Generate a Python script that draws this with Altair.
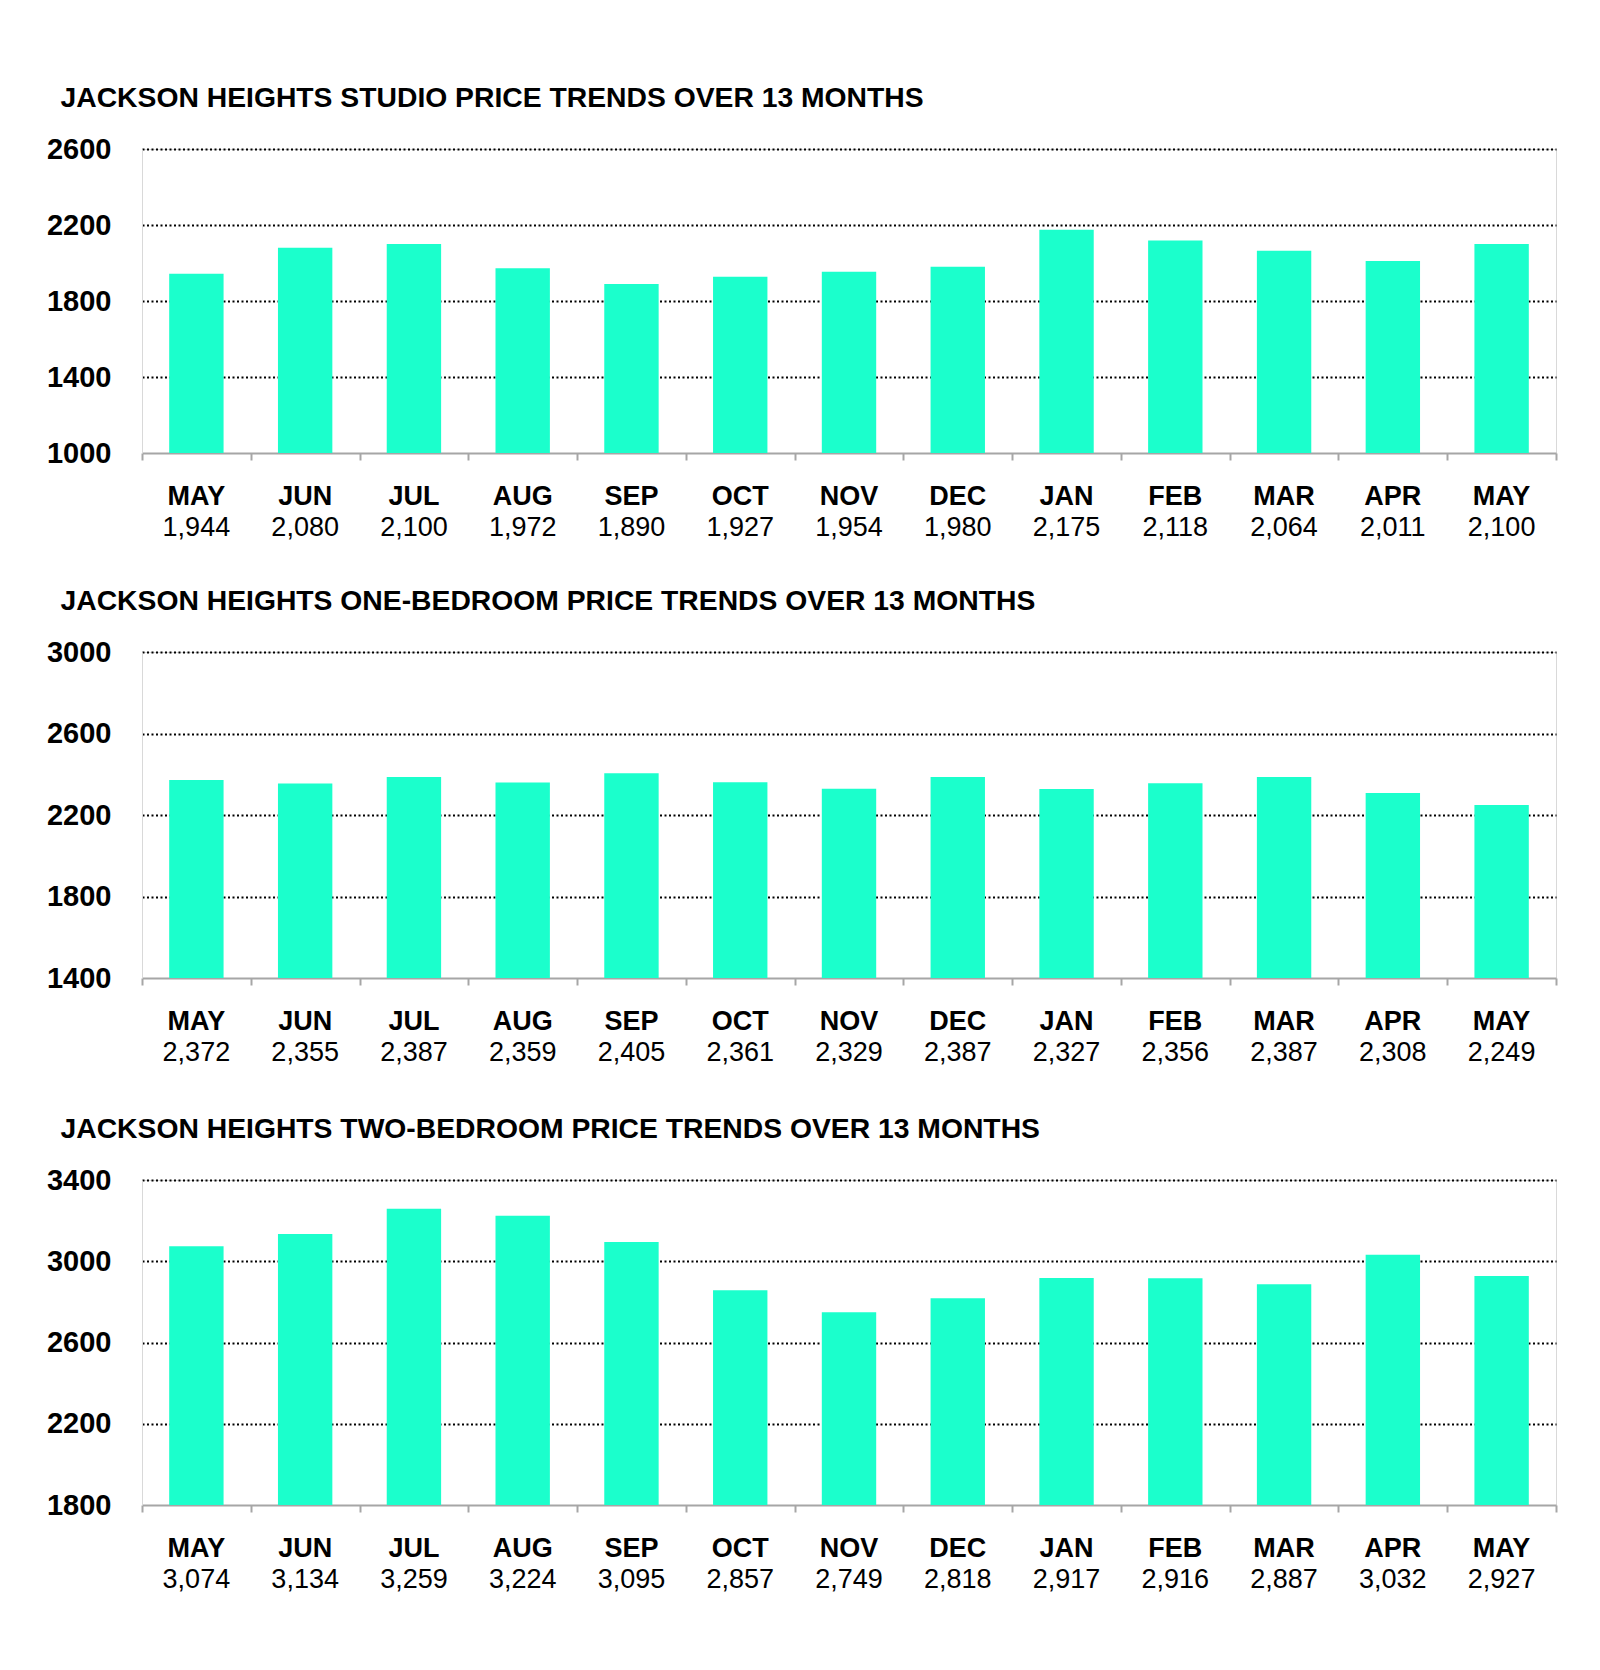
import altair as alt
import pandas as pd

months = ["MAY", "JUN", "JUL", "AUG", "SEP", "OCT", "NOV", "DEC", "JAN", "FEB", "MAR", "APR", "MAY"]
studio = [1944, 2080, 2100, 1972, 1890, 1927, 1954, 1980, 2175, 2118, 2064, 2011, 2100]
one_bed = [2372, 2355, 2387, 2359, 2405, 2361, 2329, 2387, 2327, 2356, 2387, 2308, 2249]
two_bed = [3074, 3134, 3259, 3224, 3095, 2857, 2749, 2818, 2917, 2916, 2887, 3032, 2927]

titles = [
    "JACKSON HEIGHTS STUDIO PRICE TRENDS OVER 13 MONTHS",
    "JACKSON HEIGHTS ONE-BEDROOM PRICE TRENDS OVER 13 MONTHS",
    "JACKSON HEIGHTS TWO-BEDROOM PRICE TRENDS OVER 13 MONTHS",
]
studio_ticks = [1000, 1400, 1800, 2200, 2600]
one_bed_ticks = [1400, 1800, 2200, 2600, 3000]
two_bed_ticks = [1800, 2200, 2600, 3000, 3400]
panel_heights = [304, 326, 325]

FONT = "Liberation Sans"
BAR = "#1bffcc"
PLOT_W = 1414


def panel(values, title, ticks, h):
    df = pd.DataFrame({"idx": list(range(len(months))), "month": months, "value": values})
    x = alt.X(
        "idx:O",
        scale=alt.Scale(paddingInner=0, paddingOuter=0),
        axis=alt.Axis(
            title=None, labels=False, tickBand="extent", tickSize=7,
            tickColor="#a6a6a6", tickWidth=2, domainColor="#a6a6a6",
            domainWidth=2, grid=False,
        ),
    )
    y = alt.Y(
        "value:Q",
        scale=alt.Scale(domain=[ticks[0], ticks[-1]], nice=False, zero=False),
        axis=alt.Axis(
            title=None, values=ticks, format="d", labelFontSize=29, labelFontWeight="bold",
            labelColor="black", labelFont=FONT, labelPadding=31, ticks=False,
            domainColor="#d9d9d9", domainWidth=1,
            gridColor={"condition": {"test": f"datum.value === {ticks[0]}", "value": "transparent"},
                       "value": "#000000"},
            gridDash=[2, 2.5], gridWidth=2,
        ),
    )
    bars = alt.Chart(df).mark_bar(color=BAR, clip=True, width=alt.RelativeBandSize(0.5)).encode(x=x, y=y)
    month_text = alt.Chart(df).mark_text(
        font=FONT, fontSize=27, fontWeight="bold", baseline="middle", color="black"
    ).encode(x=alt.X("idx:O"), y=alt.value(h + 44), text="month:N")
    value_text = alt.Chart(df).mark_text(
        font=FONT, fontSize=27, baseline="middle", color="black"
    ).encode(x=alt.X("idx:O"), y=alt.value(h + 75), text=alt.Text("value:Q", format=","))
    return alt.layer(bars, month_text, value_text).properties(
        width=PLOT_W, height=h,
        title=alt.TitleParams(
            title, anchor="start", dx=14, fontSize=28.3, font=FONT,
            fontWeight="bold", color="black", offset=22,
        ),
    )


top_two = alt.vconcat(
    panel(studio, titles[0], studio_ticks, panel_heights[0]),
    panel(one_bed, titles[1], one_bed_ticks, panel_heights[1]),
    spacing=44,
)
chart = alt.vconcat(
    top_two,
    panel(two_bed, titles[2], two_bed_ticks, panel_heights[2]),
    spacing=47,
).properties(
    padding={"left": 37, "top": 75, "right": 5, "bottom": 5},
).configure_view(stroke="#d9d9d9")

chart.save("out.html", embed_options={"renderer": "svg", "actions": False})
